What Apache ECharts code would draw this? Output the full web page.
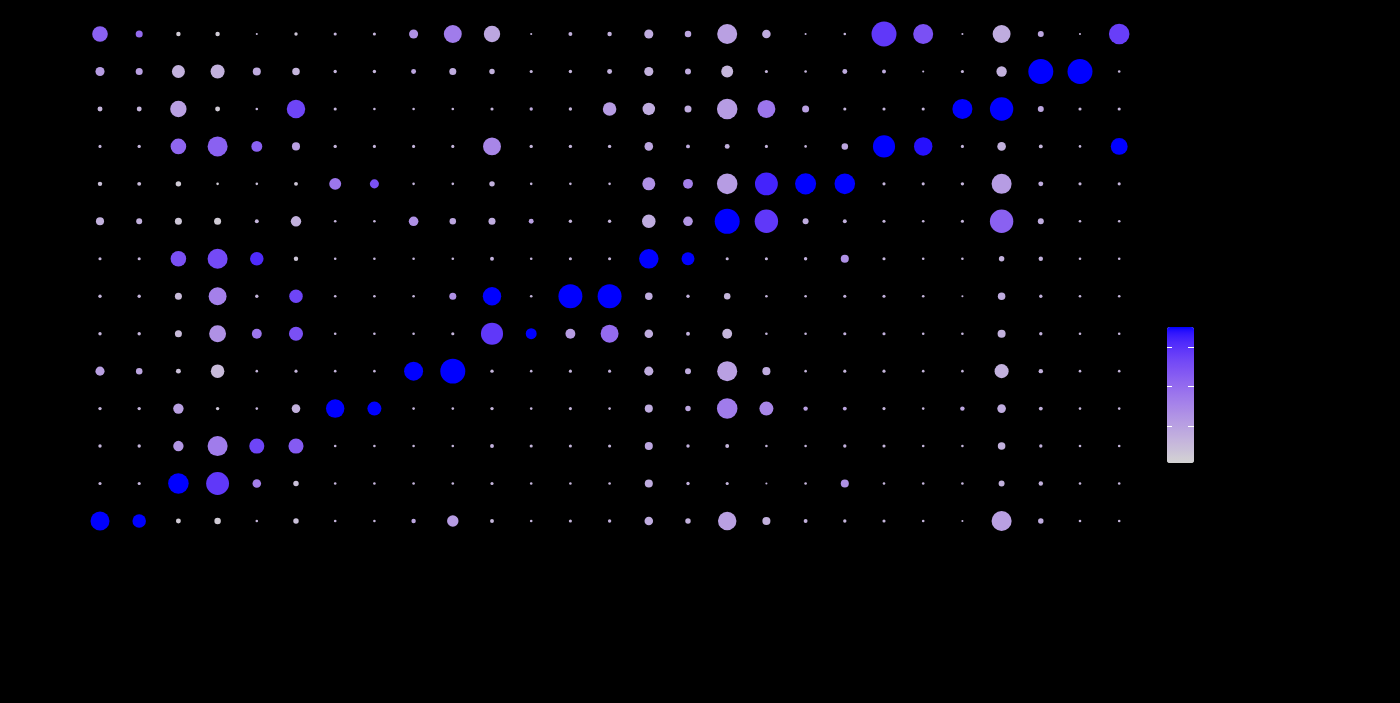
<!DOCTYPE html>
<html><head><meta charset="utf-8">
<script src="https://cdn.jsdelivr.net/npm/echarts@6/dist/echarts.min.js"></script>
<style>html,body{margin:0;padding:0;background:#000;} #chart{width:1400px;height:703px;}</style>
</head><body><div id="chart"></div>
<script>
// Features along x (27), identities along y (14, cluster 0 at the bottom)
const features = ['F1','F2','F3','F4','F5','F6','F7','F8','F9','F10','F11','F12','F13','F14','F15','F16','F17','F18','F19','F20','F21','F22','F23','F24','F25','F26','F27'];
const clusters = ['0','1','2','3','4','5','6','7','8','9','10','11','12','13'];

// Percent expressed, one array per cluster (0..13)
const pct0  = [73,52,19,25,10,21,10,10,17,44,15,10,12,13,33,21,71,31,15,13,12,10,8,77,21,10,10];
const pct1  = [12,12,79,88,33,21,10,10,10,10,12,10,10,10,31,13,12,8,10,31,10,10,10,23,17,10,10];
const pct2  = [13,13,40,77,58,58,10,10,10,10,15,12,12,12,31,13,15,10,10,13,12,10,10,29,13,10,10];
const pct3  = [13,13,40,13,10,33,71,54,10,10,13,10,12,10,31,21,79,54,17,15,12,10,17,33,15,10,10];
const pct4  = [35,25,19,52,10,12,10,10,73,96,13,10,12,12,35,23,77,31,10,12,12,10,10,54,17,10,10];
const pct5  = [13,13,27,65,38,54,10,10,10,12,85,42,38,69,33,15,38,10,10,12,12,10,10,31,13,10,10];
const pct6  = [13,13,27,69,13,52,10,10,10,27,71,10,92,92,29,13,25,10,10,12,12,10,8,29,13,10,10];
const pct7  = [12,12,60,77,52,17,10,10,10,10,15,10,12,12,75,50,12,12,13,31,12,10,10,21,17,10,10];
const pct8  = [31,23,27,27,15,40,10,10,37,25,27,19,13,13,52,37,96,90,23,15,12,10,12,90,23,10,10];
const pct9  = [17,15,21,10,10,15,46,35,10,10,21,10,10,10,50,38,79,88,81,79,12,12,13,77,19,12,12];
const pct10 = [12,13,60,77,42,31,13,12,12,12,69,13,13,13,33,15,19,12,10,25,85,71,12,33,15,10,65];
const pct11 = [19,19,63,19,10,71,12,10,10,10,12,13,13,52,48,27,79,69,27,12,12,12,77,90,23,12,12];
const pct12 = [35,27,50,54,31,29,13,13,19,27,21,12,13,19,35,23,46,12,10,19,15,8,12,40,96,96,10];
const pct13 = [60,27,17,17,8,13,12,12,35,69,63,8,15,17,35,25,77,33,8,10,96,77,8,69,23,8,79];

// Average (scaled) expression, one array per cluster (0..13)
const avg0  = [2.5,2.5,-0.8,-0.8,-0.4,-0.6,-0.4,-0.4,-0.1,0.1,-0.4,-0.4,-0.4,-0.3,-0.2,-0.3,0.0,-0.3,-0.3,-0.4,-0.4,-0.4,-0.4,0.0,-0.2,-0.4,-0.4];
const avg1  = [-0.4,-0.4,2.5,1.9,0.6,-0.6,-0.4,-0.4,-0.4,-0.4,-0.4,-0.4,-0.4,-0.4,-0.2,-0.3,-0.4,-0.4,-0.4,0.3,-0.4,-0.4,-0.4,-0.3,-0.3,-0.4,-0.4];
const avg2  = [-0.4,-0.4,0.2,0.7,1.7,1.3,-0.4,-0.4,-0.4,-0.4,-0.3,-0.4,-0.4,-0.4,-0.1,-0.3,-0.4,-0.4,-0.4,-0.3,-0.4,-0.4,-0.4,-0.3,-0.3,-0.4,-0.4];
const avg3  = [-0.4,-0.4,0.0,-0.7,-0.4,-0.3,2.5,2.5,-0.4,-0.4,-0.4,-0.4,-0.4,-0.4,-0.2,-0.1,0.7,0.5,0.0,-0.1,-0.4,-0.4,-0.1,-0.2,-0.3,-0.4,-0.4];
const avg4  = [0.0,-0.1,-0.6,-0.5,-0.4,-0.4,-0.4,-0.4,2.5,2.5,-0.4,-0.4,-0.4,-0.3,-0.2,-0.2,0.0,-0.2,-0.4,-0.4,-0.4,-0.4,-0.4,-0.3,-0.3,-0.4,-0.4];
const avg5  = [-0.4,-0.4,-0.5,0.3,0.8,1.5,-0.4,-0.4,-0.4,-0.4,1.9,2.5,0.1,1.0,-0.2,-0.3,-0.4,-0.4,-0.4,-0.3,-0.3,-0.4,-0.4,-0.3,-0.3,-0.4,-0.4];
const avg6  = [-0.4,-0.4,-0.5,0.6,-0.4,1.7,-0.4,-0.4,-0.4,0.3,2.5,-0.4,2.5,2.5,-0.2,-0.3,-0.4,-0.4,-0.4,-0.3,-0.3,-0.4,-0.4,-0.2,-0.3,-0.4,-0.4];
const avg7  = [-0.4,-0.4,1.5,1.6,2.1,-0.7,-0.4,-0.4,-0.4,-0.4,-0.3,-0.4,-0.4,-0.4,2.5,2.5,-0.4,-0.4,-0.3,0.3,-0.4,-0.4,-0.4,-0.3,-0.3,-0.4,-0.4];
const avg8  = [-0.3,-0.3,-0.7,-0.8,-0.4,-0.3,-0.4,-0.4,0.3,-0.1,-0.2,0.0,-0.4,-0.4,-0.2,0.2,2.5,1.9,-0.2,-0.3,-0.4,-0.4,-0.4,1.2,-0.2,-0.4,-0.4];
const avg9  = [-0.6,-0.5,-0.8,-0.8,-0.6,-0.7,0.8,1.5,-0.4,-0.4,-0.3,-0.4,-0.4,-0.4,0.3,0.6,0.1,2.2,2.5,2.5,-0.4,-0.4,-0.4,0.1,-0.2,-0.4,-0.4];
const avg10 = [-0.4,-0.4,1.1,1.2,1.2,0.0,-0.4,-0.4,-0.4,-0.4,0.5,-0.4,-0.4,-0.4,-0.1,-0.2,-0.3,-0.4,-0.4,-0.1,2.5,2.4,-0.4,-0.3,-0.4,-0.4,2.5];
const avg11 = [-0.4,-0.4,0.0,-0.8,-0.4,1.7,-0.4,-0.4,-0.4,-0.4,-0.4,-0.2,-0.4,0.1,-0.2,-0.2,0.1,0.8,0.0,-0.4,-0.4,-0.4,2.5,2.5,-0.1,-0.4,-0.4];
const avg12 = [0.1,0.0,-0.3,-0.3,-0.2,-0.4,-0.4,-0.4,-0.1,-0.2,-0.3,-0.4,-0.4,-0.3,-0.3,-0.2,-0.4,-0.4,-0.4,-0.2,-0.2,-0.4,-0.4,-0.3,2.5,2.5,-0.4];
const avg13 = [1.2,1.0,-0.8,-0.8,-0.5,-0.7,-0.4,-0.4,0.3,0.7,-0.1,-0.4,-0.3,-0.3,-0.2,-0.1,0.0,-0.2,-0.4,-0.4,1.9,1.5,-0.4,-0.2,-0.1,-0.4,1.8];

// Colour scale range and colourbar ticks
const colorMin = -0.94, colorMax = 2.5;
const colorTicks = [0, 1, 2];

const pctRows = [pct0,pct1,pct2,pct3,pct4,pct5,pct6,pct7,pct8,pct9,pct10,pct11,pct12,pct13];
const avgRows = [avg0,avg1,avg2,avg3,avg4,avg5,avg6,avg7,avg8,avg9,avg10,avg11,avg12,avg13];

// ---- CIELAB interpolation (as ggplot's gradient) ----
function lin(c){c/=255;return c<=0.04045?c/12.92:Math.pow((c+0.055)/1.055,2.4);}
function unlin(c){c=c<=0.0031308?12.92*c:1.055*Math.pow(c,1/2.4)-0.055;return Math.max(0,Math.min(255,Math.round(c*255)));}
function hexToLab(h){
  const r=lin(parseInt(h.substr(1,2),16)),g=lin(parseInt(h.substr(3,2),16)),b=lin(parseInt(h.substr(5,2),16));
  let X=(0.4124564*r+0.3575761*g+0.1804375*b)/0.95047,Y=(0.2126729*r+0.7151522*g+0.0721750*b),Z=(0.0193339*r+0.1191920*g+0.9503041*b)/1.08883;
  const f=t=>t>0.008856?Math.cbrt(t):7.787*t+16/116;
  const fx=f(X),fy=f(Y),fz=f(Z);
  return [116*fy-16,500*(fx-fy),200*(fy-fz)];
}
function labToHex(L,a,b){
  const fy=(L+16)/116,fx=fy+a/500,fz=fy-b/200;
  const fi=t=>{const t3=t*t*t;return t3>0.008856?t3:(t-16/116)/7.787;};
  const X=fi(fx)*0.95047,Y=fi(fy),Z=fi(fz)*1.08883;
  const r=3.2404542*X-1.5371385*Y-0.4985314*Z,g=-0.9692660*X+1.8760108*Y+0.0415560*Z,bb=0.0556434*X-0.2040259*Y+1.0572252*Z;
  return '#'+[unlin(r),unlin(g),unlin(bb)].map(v=>v.toString(16).padStart(2,'0')).join('');
}
const lowLab=hexToLab('#d3d3d3'), highLab=hexToLab('#0000ff');
const stops=[];
for(let i=0;i<=40;i++){const t=i/40;stops.push(labToHex(lowLab[0]+(highLab[0]-lowLab[0])*t,lowLab[1]+(highLab[1]-lowLab[1])*t,lowLab[2]+(highLab[2]-lowLab[2])*t));}

// ---- data ----
const data=[];
clusters.forEach((c,yi)=>{features.forEach((f,xi)=>{data.push([xi,yi,avgRows[yi][xi],pctRows[yi][xi]]);});});

const vmLeft=1167, vmTop=327, vmW=27, vmH=136;
const tickGraphics=[];
colorTicks.forEach(v=>{
  const y=Math.round(vmTop+vmH*(colorMax-v)/(colorMax-colorMin))+0.5;
  tickGraphics.push({type:'line',shape:{x1:vmLeft,y1:y,x2:vmLeft+5,y2:y},style:{stroke:'#ffffff',lineWidth:1},z:100});
  tickGraphics.push({type:'line',shape:{x1:vmLeft+vmW-6,y1:y,x2:vmLeft+vmW,y2:y},style:{stroke:'#ffffff',lineWidth:1},z:100});
});

const chart=echarts.init(document.getElementById('chart'),null,{renderer:'canvas'});
chart.setOption({
  backgroundColor:'#000000',
  animation:false,
  grid:{left:80.4,top:15.3,width:1058.4,height:524.4},
  xAxis:{type:'category',data:features,boundaryGap:true,axisLine:{show:false},axisTick:{show:false},axisLabel:{show:false},splitLine:{show:false}},
  yAxis:{type:'category',data:clusters,boundaryGap:true,axisLine:{show:false},axisTick:{show:false},axisLabel:{show:false},splitLine:{show:false}},
  visualMap:{type:'continuous',min:colorMin,max:colorMax,dimension:2,calculable:false,orient:'vertical',
    left:vmLeft,top:vmTop,itemWidth:vmW,itemHeight:vmH,padding:0,text:null,showLabel:false,
    inRange:{color:stops},textStyle:{color:'#000'}},
  graphic:tickGraphics,
  series:[{type:'scatter',data:data,symbol:'circle',
    symbolSize:function(v){return Math.max(1.5,v[3]*0.26);},
    itemStyle:{opacity:1}}]
});
</script></body></html>
